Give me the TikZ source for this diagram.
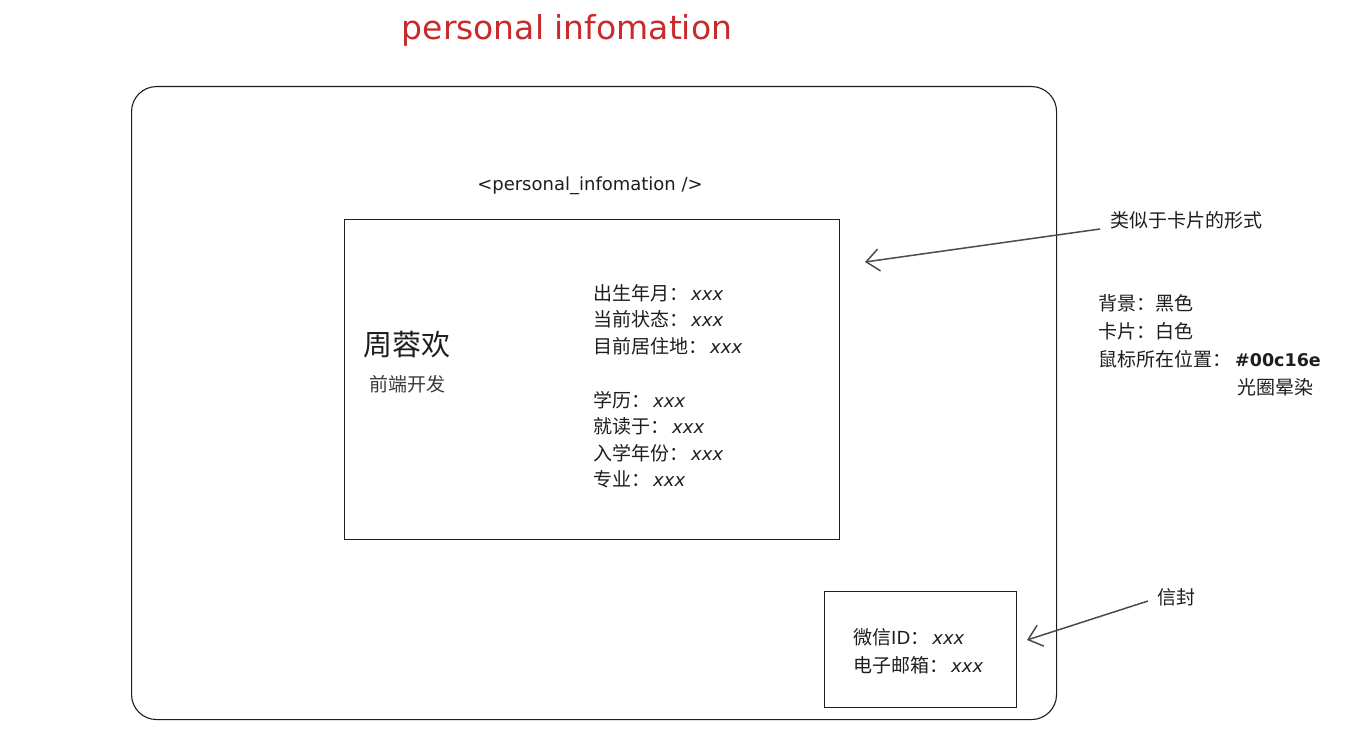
\documentclass[tikz,border=0pt]{standalone}
\usepackage{fontspec}
\setmainfont{DejaVu Sans}
\newfontfamily\cjk{Noto Sans CJK SC}
\newfontfamily\hand{DejaVu Sans}
\usetikzlibrary{arrows.meta}
\definecolor{titlered}{HTML}{C92A2A}
\definecolor{ink}{HTML}{1E1E1E}
\definecolor{subgray}{HTML}{3A3A3A}
\newcommand{\xv}{\hspace{3pt}{\hand\itshape\fontsize{18}{18}\selectfont xxx}}
\begin{document}
\begin{tikzpicture}[x=1pt,y=-1pt,
  box/.style={draw=ink, line width=1.1pt, inner sep=0pt, anchor=north west},
  cn/.style={font=\cjk\fontsize{19}{19}\selectfont, anchor=west, text=ink, inner sep=0pt},
  arr/.style={draw=ink!80, line width=1.5pt, -{Straight Barb[length=13pt,width=22pt]}}]
\useasboundingbox[fill=white] (0,0) rectangle (1347,730);
% title
\node[font=\hand\fontsize{33}{33}\selectfont, text=titlered, inner sep=0pt] (title) at (567,30) {personal infomation};
% frames
\node[box, rounded corners=25pt, minimum width=925pt, minimum height=633pt] (frame) at (131,86) {};
\node[box, minimum width=495pt, minimum height=320pt] (card) at (344,219) {};
\node[box, minimum width=192pt, minimum height=116pt] (env) at (824,591) {};
% component label
\node[font=\hand\fontsize{18}{18}\selectfont, text=ink, inner sep=0pt] (comp) at (590,186) {<personal\_infomation />};
% name
\node[cn, font=\cjk\fontsize{29}{29}\selectfont] (name) at (363,345) {周蓉欢};
\node[cn, text=subgray] (role) at (369,384) {前端开发};
% info lines
\node[cn] (i1) at (593,293) {出生年月：\xv};
\node[cn] (i2) at (593,319) {当前状态：\xv};
\node[cn] (i3) at (593,346) {目前居住地：\xv};
\node[cn] (i4) at (593,400) {学历：\xv};
\node[cn] (i5) at (593,426) {就读于：\xv};
\node[cn] (i6) at (593,453) {入学年份：\xv};
\node[cn] (i7) at (593,479) {专业：\xv};
% envelope
\node[cn] (e1) at (853,637) {微信{\hand\fontsize{18}{18}\selectfont ID}：\xv};
\node[cn] (e2) at (853,665) {电子邮箱：\xv};
% notes
\node[cn] (note1) at (1110,220) {类似于卡片的形式};
\node[cn] (n2) at (1098,303) {背景：黑色};
\node[cn] (n3) at (1098,331) {卡片：白色};
\node[cn] (n4) at (1098,359) {鼠标所在位置：\hspace{4pt}{\hand\bfseries\fontsize{17.5}{17.5}\selectfont\#00c16e}};
\node[cn] (n5) at (1237,387) {光圈晕染};
\node[cn] (note2) at (1157,597) {信封};
% arrows
\coordinate (tip1) at (865,262);
\coordinate (tip2) at (1027,640);
\draw[arr] ([shift={(-10,9)}]note1.west) -- (tip1);
\draw[arr] ([shift={(-9,4)}]note2.west) -- (tip2);
\end{tikzpicture}
\end{document}
